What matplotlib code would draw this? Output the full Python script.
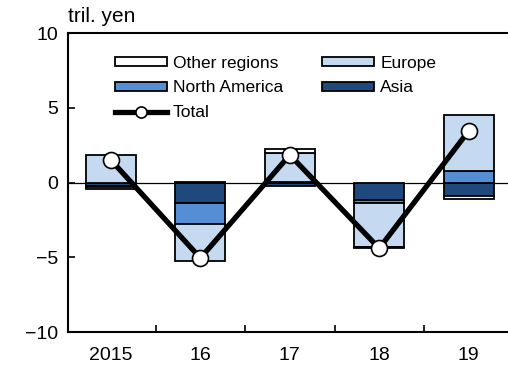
import numpy as np
import matplotlib.pyplot as plt

plt.rcParams['font.family'] = ['Liberation Sans', 'DejaVu Sans']
plt.rcParams['axes.unicode_minus'] = True

# 地域別寄与（兆円）
years = ['2015', '16', '17', '18', '19']
asia = [-0.25, -1.4, -0.2, -1.2, -0.9]
north_america = [-0.05, -1.4, 0.05, -0.15, 0.75]
europe = [1.85, -2.45, 1.95, -2.95, 3.8]
other = [-0.1, 0.05, 0.25, -0.05, -0.2]
total = [1.5, -5.05, 1.85, -4.4, 3.45]

series = [('Asia', asia, '#1F497D'),
          ('North America', north_america, '#558ED5'),
          ('Europe', europe, '#C5D9F1'),
          ('Other regions', other, '#FFFFFF')]

fig = plt.figure(figsize=(5.08, 3.72), dpi=100)
ax = fig.add_axes([0.134, 0.1075, 0.866, 0.8035])

x = np.arange(len(years))
width = 0.56
pos_base = np.zeros(len(years))
neg_base = np.zeros(len(years))
handles = {}
for name, vals, color in series:
    vals = np.array(vals)
    base = np.where(vals >= 0, pos_base, neg_base)
    h = ax.bar(x, vals, width, bottom=base, color=color,
               edgecolor='black', linewidth=1.3, label=name, zorder=2)
    handles[name] = h
    pos_base += np.where(vals >= 0, vals, 0)
    neg_base += np.where(vals < 0, vals, 0)

ax.axhline(0, color='black', linewidth=0.9, zorder=1)

line, = ax.plot(x, total, color='black', linewidth=3.8, marker='o',
                markersize=11.5, markerfacecolor='white',
                markeredgecolor='black', markeredgewidth=1.2,
                label='Total', zorder=3)

ax.set_xlim(-0.48, 4.44)
ax.set_ylim(-10, 10)
ax.set_yticks([-10, -5, 0, 5, 10])
ax.set_xticks(x)
ax.set_xticklabels(years)
ax.set_xticks(x[:-1] + 0.5, minor=True)
ax.tick_params(axis='x', which='major', length=0, labelsize=14, pad=11)
ax.tick_params(axis='x', which='minor', direction='in', length=5, width=1.2)
ax.tick_params(axis='y', direction='in', length=5, width=1.2,
               labelsize=14, pad=7)

for side in ['left', 'bottom', 'top']:
    ax.spines[side].set_linewidth(1.5)
ax.spines['right'].set_visible(False)

fig.text(0.134, 0.955, 'tril. yen', fontsize=15, ha='left', va='center')

leg = ax.legend([handles['Other regions'], handles['North America'], line,
                 handles['Europe'], handles['Asia']],
                ['Other regions', 'North America', 'Total', 'Europe', 'Asia'],
                ncol=2, loc='upper left', bbox_to_anchor=(0.09, 0.947),
                frameon=False, fontsize=12.5, handlelength=3.0,
                handleheight=0.45, handletextpad=0.35, columnspacing=2.25,
                labelspacing=0.55, borderaxespad=0)
leg.legend_handles[2].set_markersize(8)

fig.savefig('out.png', dpi=100, facecolor='white')
